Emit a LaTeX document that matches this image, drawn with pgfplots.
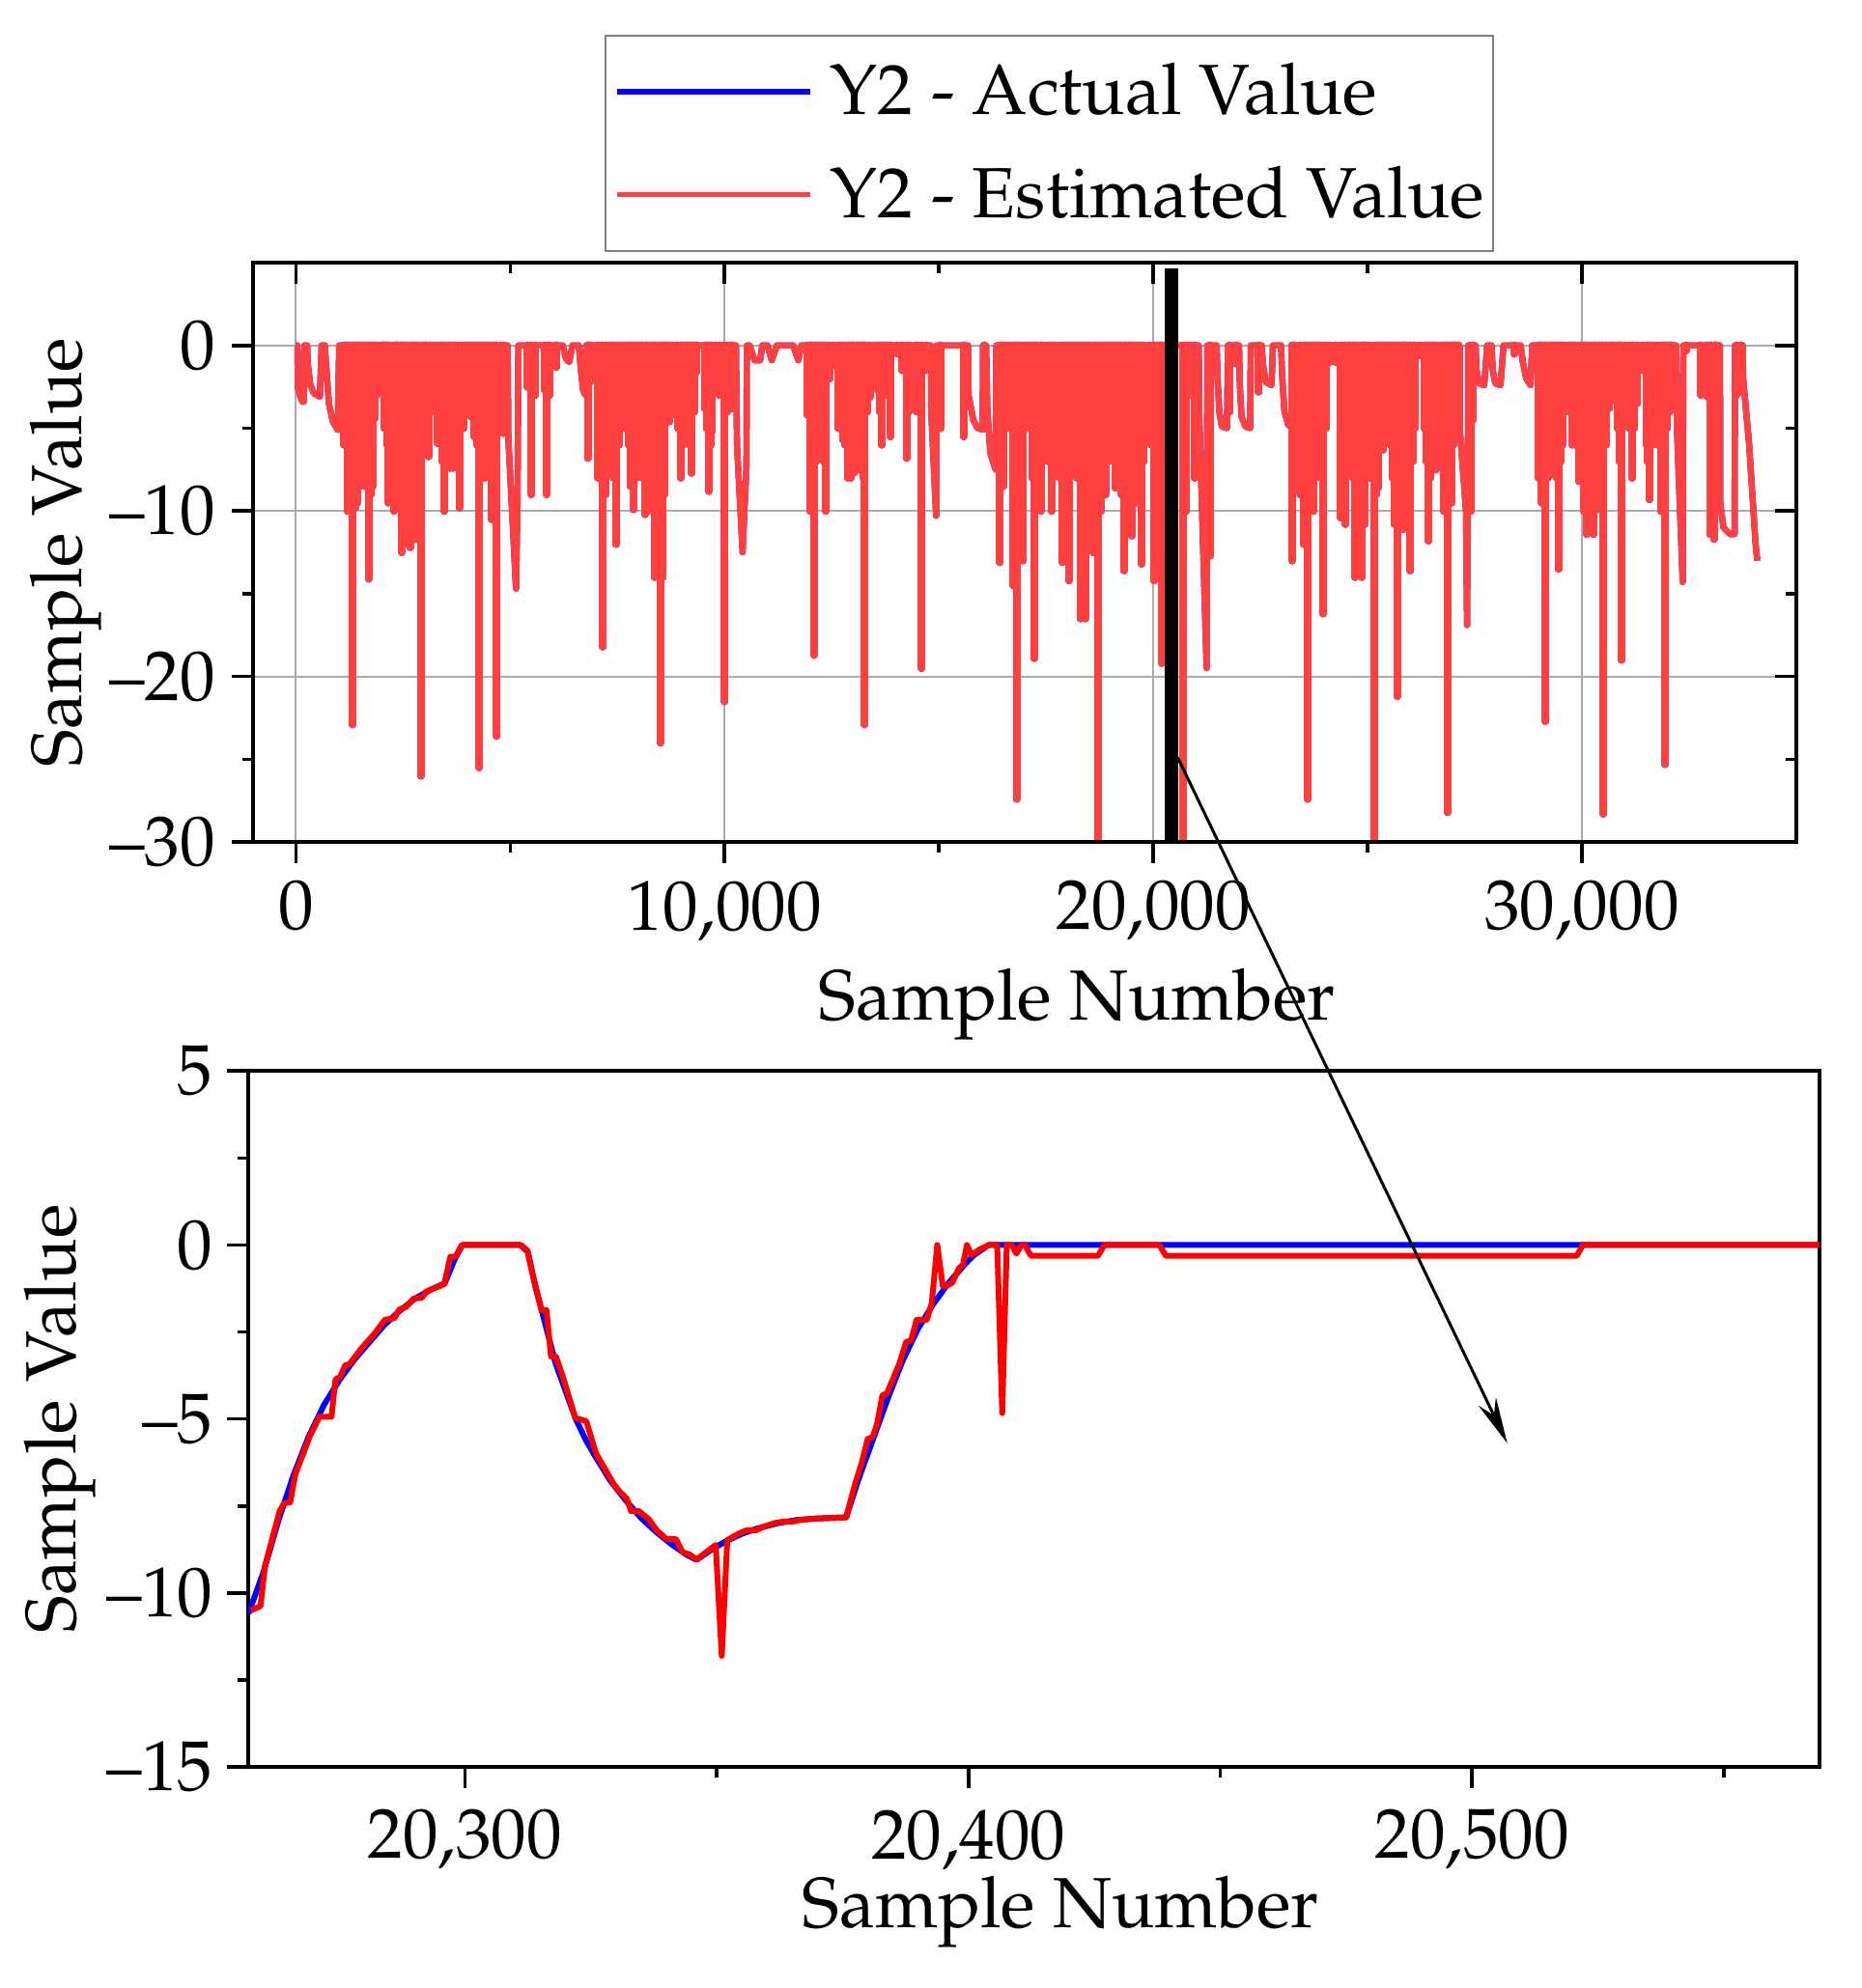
\documentclass[border=0pt]{standalone}
\usepackage[T1]{fontenc}
\usepackage{mathpazo}
\usepackage{pgfplots}
\usepackage{pgfplotstable}
\pgfplotsset{compat=1.18}
\usetikzlibrary{arrows.meta}
\definecolor{lred}{RGB}{255,64,64}
\newcommand{\lblfont}{\fontsize{18.4}{22}\selectfont}
\newcommand{\tckfont}{\fontsize{18.3}{22}\selectfont}

\pgfplotstableread{
x y
0 0
37 0
45 -2.5
90 -3
150 -3.4
187 -3.4
200 0
262 0
275 -1
330 -2.3
420 -2.9
560 -3.1
600 0
675 0
700 -1
770 -3.5
860 -4.6
975 -5.1
1010 0
4940 0
4955 -5.6
5135 -14.7
5170 -9.4
5190 0
6225 0
6300 -0.8
6375 -1
6450 0
6600 0
6650 -1.5
6700 -2.7
6750 -3
6770 0
10265 0
10280 -3.8
10290 -6
10420 -12.5
10510 -7.3
10520 0
10580 0
10700 -0.9
10830 -0.9
10880 0
11000 0
11100 -0.9
11220 0
11600 0
11720 -0.9
11790 0
14810 0
14820 -4
14935 -10.3
14950 0
15680 0
15690 -3
15730 -3.5
15800 -4.5
15900 -5
16020 -5.1
16030 0
16100 0
16130 -4
16200 -6.5
16320 -7.5
16340 0
21060 0
21070 -4
21245 -19.5
21260 0
21480 0
21500 -2
21540 -4
21600 -4.9
21720 -5
21740 0
22000 0
22020 -2.5
22060 -4.3
22150 -4.9
22260 -5
22275 0
22530 0
22560 -1.2
22620 -2.2
22760 -2.4
22790 0
22980 0
23010 -2
23060 -4
23150 -4.8
23280 -5
23300 0
27145 0
27150 -5
27295 -10
27320 -16.9
27335 -10
27345 0
27520 0
27540 -1.5
27600 -2.3
27720 -2.4
27790 0
27890 0
27920 -1.5
27980 -2.3
28100 -2.4
28170 0
28570 0
28620 -1
28700 -2
28800 -2.4
28840 0
32200 0
32215 -5
32350 -14.3
32365 0
33220 0
33225 -9.5
33300 -11
33450 -11.4
33560 -11.4
33570 0
33750 0
33760 -2
33900 -6
33950 -8
34050 -12
34090 -13
}\topline

\pgfplotstableread{
x y
1125 -6
1200 -10
1320 -22.9
1388 -9.8
1440 -9.5
1538 -2
1590 -8.5
1695 -14.1
1785 -8.5
1838 -4.4
1913 -2.5
1988 -2.7
2040 -1.7
2100 -4
2160 -9.5
2288 -10
2325 -9.8
2400 -4
2475 -12.5
2550 -12
2663 -12.2
2700 -10.2
2775 -11.7
2910 -26
2963 -6
3000 -2
3090 -6.7
3150 -2
3300 -5.9
3375 -5.9
3465 -10
3600 -7.4
3660 -7.4
3713 -4.5
3810 -9.8
3975 -3
4088 -4.3
4163 -5.5
4275 -25.5
4410 -8
4500 -2
4575 -10.5
4688 -23.6
4838 -5.3
5400 -2.5
5498 -9
5588 -3
5813 -2.7
5850 -9
5910 -3
6075 -1.3
6810 -6.8
6863 -2.2
7050 -8
7163 -18.2
7275 -7.4
7350 -5.7
7463 -12
7538 -6
7613 -2.5
7725 -4.8
7800 -8.5
7875 -9.9
7950 -8
8040 -7.5
8138 -10.2
8223 -10
8335 -8.5
8373 -14
8500 -24
8560 -14
8635 -4.6
8710 -4.6
8785 -3.8
8860 -4.2
8973 -8
9085 -5
9145 -5
9235 -7.7
9348 -1.6
9535 -3.8
9633 -8.8
9700 -5.2
9798 -2.5
9873 -3
10000 -21.5
10060 -4
10173 -3.8
11935 -4.2
11988 -10
12085 -18.7
12198 -5.5
12273 -5
12363 -10
12460 -2
12535 -1.2
12648 -5
12760 -5.7
12873 -8
12948 -8
13023 -7.7
13135 -7.5
13210 -5
13270 -22.9
13398 -3.1
13510 -2
13585 -2.7
13660 -6
13735 -2.6
13870 -5.5
14035 -0.5
14148 -1.5
14245 -6.8
14485 -4
14598 -19.5
14710 -1.5
15048 -5
15573 -5.5
16060 -0.5
16420 -13.1
16510 -8.5
16585 -1.5
16735 -14.5
16810 -27.4
16960 -13
17110 -4
17223 -18.9
17373 -10
17398 -6.8
17473 -3.7
17623 -10
17735 -3.6
17885 -13.1
18035 -14.2
18148 -3.5
18298 -16.5
18410 -16.5
18485 -11
18598 -12.5
18710 -31
18785 -10
18898 -9
19010 -3.6
19123 -8.6
19198 -8.5
19310 -13.6
19423 -10
19498 -11.5
19610 -9.5
19723 -13.2
19910 -0.5
20023 -14.2
20135 -7.5
20210 -19.2
20698 -31
20773 -10
20848 -3
20960 -8
21335 -12.7
21785 -4
21935 -1.1
22460 -2.8
23233 -13
23510 -12
23600 -27.4
23735 -10
23848 -2.5
23960 -16.2
24110 -1
24260 -1
24373 -10.4
24485 -10.8
24598 -4.5
24710 -14
24860 -14
24935 -10.8
25145 -31
25235 -8.6
25348 -6.3
25460 -2.2
25535 -6
25625 -10.8
25685 -21.2
25835 -11.1
25910 -10
26000 -13.6
26098 -5
26210 -0.6
26323 -5
26420 -11.8
26510 -7.5
26600 -7.5
26700 -2
26775 -10
26865 -28.2
26963 -9.5
27038 -5.5
27113 -5.3
27413 -10
27450 -4.5
28425 -0.5
28988 -8
29063 -9.5
29153 -22.7
29250 -7.8
29325 -6
29363 -6
29453 -13.5
29550 -6
29625 -2
29775 -6
29925 -8.2
30038 -10
30113 -11.4
30263 -11.4
30375 -9.9
30503 -28.3
30638 -3.8
30750 -3.3
30825 -5
30923 -19
31013 -4.2
31163 -8
31275 -3.5
31425 -1.5
31500 -6
31575 -9.3
31688 -4.8
31838 -10
31935 -25.3
31988 -5
32100 -2.7
32438 -0.3
32775 -3
32925 -3.1
32985 -11.4
33075 -11.7
33150 -3.2
33600 -3
33713 -2.8
}\topspikes

\pgfplotstableread{
x y
1160 -4
1260 -8
1480 -5
1640 -6
1740 -9
1880 -3
2010 -2
2070 -5
2130 -6
2220 -7
2360 -8
2440 -7
2510 -9
2610 -10
2740 -9
2840 -8
3040 -4
3230 -4
3420 -7
3540 -6
3760 -6
3900 -5
4030 -3
4220 -6
4340 -7
4460 -5
4630 -6
4760 -4
7100 -6
7220 -9
7410 -8
7670 -5
7760 -6
7840 -7
7910 -6
8000 -6
8090 -8
8180 -7
8280 -8
8420 -10
8600 -9
8670 -4
8920 -5
9030 -6
9190 -6
9290 -4
9580 -5
9670 -6
12030 -6
12140 -7
12320 -7
12700 -5
12820 -6
12910 -7
12990 -6
13070 -6
13170 -6
13240 -8
13330 -4
13620 -4
13800 -3
14300 -4
16460 -7
16650 -5
16770 -9
16880 -7
17050 -5
17170 -8
17300 -7
17550 -7
17680 -6
17800 -8
17960 -9
18090 -7
18220 -8
18350 -10
18540 -9
18650 -10
18840 -8
18950 -7
19060 -6
19160 -7
19260 -9
19370 -8
19460 -9
19550 -8
19670 -9
19780 -7
19960 -6
20080 -8
20170 -9
23290 -8
23420 -9
23560 -10
23660 -9
23790 -6
23900 -8
24020 -5
24420 -7
24540 -6
24650 -8
24780 -9
24900 -9
25040 -8
25190 -9
25290 -6
25400 -4
25580 -8
25760 -9
25870 -8
25960 -9
26050 -7
26380 -7
26470 -8
26560 -6
26820 -9
26910 -8
27000 -6
27080 -4
29020 -7
29110 -9
29200 -8
29290 -6
29410 -8
29500 -7
29700 -4
29850 -6
29980 -8
30070 -9
30180 -9
30320 -9
30440 -9
30570 -6
30700 -3
30880 -7
31100 -5
31220 -5
31540 -7
31630 -6
31760 -6
31890 -9
32040 -4
33020 -8
33110 -7
}\topspikesb

\pgfplotstableread{
x y
20257 -10.6
20260 -9.4
20263 -7.9
20266 -6.6
20269 -5.5
20272 -4.6
20275 -3.9
20278 -3.3
20281 -2.8
20284 -2.3
20287 -1.9
20290 -1.55
20293 -1.3
20296 -1.1
20298 -0.4
20299.5 0
20311 0
20312.5 -0.2
20314 -1.2
20316 -2.3
20318 -3.4
20320 -4.2
20322 -5.0
20324 -5.6
20326 -6.1
20329 -6.8
20332 -7.35
20335 -7.85
20338 -8.25
20341 -8.6
20344 -8.9
20346 -9.05
20349 -8.75
20352 -8.5
20355 -8.3
20358 -8.15
20362 -8.0
20366 -7.9
20370 -7.86
20375.7 -7.83
20378 -6.8
20381 -5.6
20384 -4.4
20387 -3.3
20390 -2.4
20393 -1.7
20396 -1.1
20399 -0.6
20401 -0.3
20404 0
20569 0
}\botblue

\pgfplotstableread{
x y
20257.5 -10.5
20259.4 -10.38
20260.3 -9.22
20263.2 -7.65
20264.1 -7.42
20265.3 -7.4
20266.3 -6.6
20269.2 -5.5
20271.1 -4.94
20273.5 -4.94
20274.3 -3.86
20275.2 -3.8
20276.2 -3.46
20277.1 -3.42
20279.4 -2.98
20282.2 -2.52
20284.1 -2.15
20286.0 -2.1
20287.0 -1.85
20288.3 -1.78
20289.8 -1.54
20291.4 -1.52
20292.4 -1.33
20295.9 -1.13
20297.1 -0.34
20298.1 -0.34
20299.4 0
20311.1 0
20312.4 -0.16
20313.3 -0.76
20315.2 -1.87
20316.2 -1.87
20317.1 -3.21
20318.1 -3.21
20319.7 -3.9
20321.9 -4.97
20324.1 -5.06
20326.0 -5.98
20329.5 -6.86
20330.8 -7.1
20332.1 -7.28
20333.0 -7.65
20334.6 -7.65
20336.5 -7.88
20338.1 -8.2
20340.0 -8.45
20341.9 -8.45
20343.2 -8.82
20344.7 -8.9
20346.0 -9.04
20349.8 -8.62
20351.0 -11.81
20352.1 -8.48
20354.3 -8.30
20355.9 -8.2
20357.8 -8.2
20359.0 -8.11
20361.6 -7.99
20363.2 -7.95
20365.1 -7.95
20366.7 -7.9
20369.8 -7.86
20375.7 -7.83
20377.5 -6.86
20378.7 -6.31
20380.0 -5.57
20381.0 -5.52
20381.9 -5.11
20382.9 -4.32
20383.8 -4.27
20386.3 -3.4
20387.6 -2.79
20388.6 -2.74
20389.7 -2.15
20391.7 -2.15
20392.7 -1.68
20393.8 0
20394.9 -1.18
20395.6 -1.18
20396.8 -1.08
20398.1 -0.67
20398.9 -0.57
20399.7 0
20400.6 -0.29
20402.2 -0.13
20404.1 0
20405.7 0
20406.7 -4.83
20407.6 0
20408.6 0
20409.5 -0.25
20410.5 0
20411.2 0
20412.4 -0.31
20425.7 -0.31
20427 0
20437.9 0
20439.2 -0.31
20520.8 -0.31
20522 0
20569 0
}\botred

\pgfplotsset{
  common/.style={
    scale only axis,
    tick label style={font=\tckfont},
    label style={font=\lblfont},
    axis line style={line width=1pt},
    every tick/.style={black, line width=0.9pt},
    major tick length=5.5pt,
    minor tick length=2.75pt,
    scaled ticks=false,
    /pgf/number format/1000 sep={\mathord{,}},
  }
}

\begin{document}
\begin{tikzpicture}
\path[use as bounding box] (0,0) rectangle (482pt,-514.75pt);

% ---------- top chart ----------
\begin{axis}[common,
  at={(65.5pt,-218pt)}, anchor=south west,
  width=399.5pt, height=150pt,
  xmin=-1000, xmax=35000, ymin=-30, ymax=5,
  xtick={0,10000,20000,30000}, minor xtick={5000,15000,25000},
  ytick={-30,-20,-10,0}, minor ytick={-25,-15,-5},
  yticklabels={\textendash30,\textendash20,\textendash10,0},
  tick align=outside, xtick pos=left, ytick pos=left,
  grid=major, major grid style={gray!65, line width=0.5pt},
  xticklabel style={inner sep=0pt, yshift=-4.5pt},
  yticklabel style={inner sep=0pt, xshift=-4pt},
  xlabel={Sample Number}, ylabel={Sample Value},
  xlabel style={at={(rel axis cs:0.534,0)}, anchor=base, yshift=-46pt, inner sep=0pt},
  ylabel style={at={(axis description cs:-0.1447,0.5)}, anchor=north, inner sep=0pt},
  legend cell align=left,
  legend image code/.code={\draw[#1, line width=1.4pt] (0pt,0pt) -- (50pt,0pt);},
  legend style={at={(0.2278,1.0187)}, anchor=south west, draw=gray, line width=0.5pt,
    font=\fontsize{18.4}{22}\selectfont, inner xsep=2.3pt, inner ysep=7.2pt,
    row sep=11.8pt, column sep=4.5pt, nodes={inner sep=0pt}},
]
\addplot[blue, line width=1.6pt, line join=round] table {\topline};
\addplot[ycomb, blue, line width=2pt, line cap=round, forget plot] table {\topspikes};
\addplot[ycomb, blue, line width=2pt, line cap=round, forget plot] table {\topspikesb};
\addplot[lred, line width=1.6pt, line join=round] table {\topline};
\addplot[ycomb, lred, line width=2pt, line cap=round, forget plot] table {\topspikes};
\addplot[ycomb, lred, line width=2pt, line cap=round, forget plot] table {\topspikesb};
\legend{Y2 - Actual Value, Y2 - Estimated Value}
\fill[black] (axis cs:20263,-30) rectangle (axis cs:20571,4.65);
\coordinate (A) at (axis cs:20571,-24.9);
\end{axis}

\begin{axis}[common,
  at={(65.5pt,-218pt)}, anchor=south west,
  width=399.5pt, height=150pt,
  xmin=-1000, xmax=35000, ymin=-30, ymax=5,
  xtick={0,10000,20000,30000}, minor xtick={5000,15000,25000},
  ytick={-30,-20,-10,0}, minor ytick={-25,-15,-5},
  tick align=inside, xtick pos=right, ytick pos=right,
  xticklabels={}, yticklabels={},
]
\addplot[draw=none] coordinates {(0,0)};
\end{axis}

% ---------- bottom chart ----------
\begin{axis}[common,
  at={(64.3pt,-457.5pt)}, anchor=south west,
  width=406.7pt, height=180.2pt,
  xmin=20257, xmax=20569, ymin=-15, ymax=5,
  xtick={20300,20400,20500}, minor xtick={20350,20450,20550},
  ytick={-15,-10,-5,0,5}, minor ytick={-12.5,-7.5,-2.5,2.5},
  yticklabels={\textendash15,\textendash10,\textendash5,0,5},
  tick align=outside, xtick pos=left, ytick pos=left,
  xticklabel style={inner sep=0pt, yshift=-5.4pt},
  yticklabel style={inner sep=0pt, xshift=-3.5pt},
  xlabel={Sample Number}, ylabel={Sample Value},
  xlabel style={at={(rel axis cs:0.517,0)}, anchor=base, yshift=-41.5pt, inner sep=0pt},
  ylabel style={at={(axis description cs:-0.1429,0.5)}, anchor=north, inner sep=0pt},
]
\addplot[blue, line width=1.5pt, line join=round] table {\botblue};
\addplot[red, line width=1.5pt, line join=round] table {\botred};
\coordinate (B) at (axis cs:20507,-5.7);
\end{axis}

\draw[line width=0.75pt, -{Stealth[length=12pt, width=5pt, inset=4pt]}] (A) -- (B);
\end{tikzpicture}
\end{document}
